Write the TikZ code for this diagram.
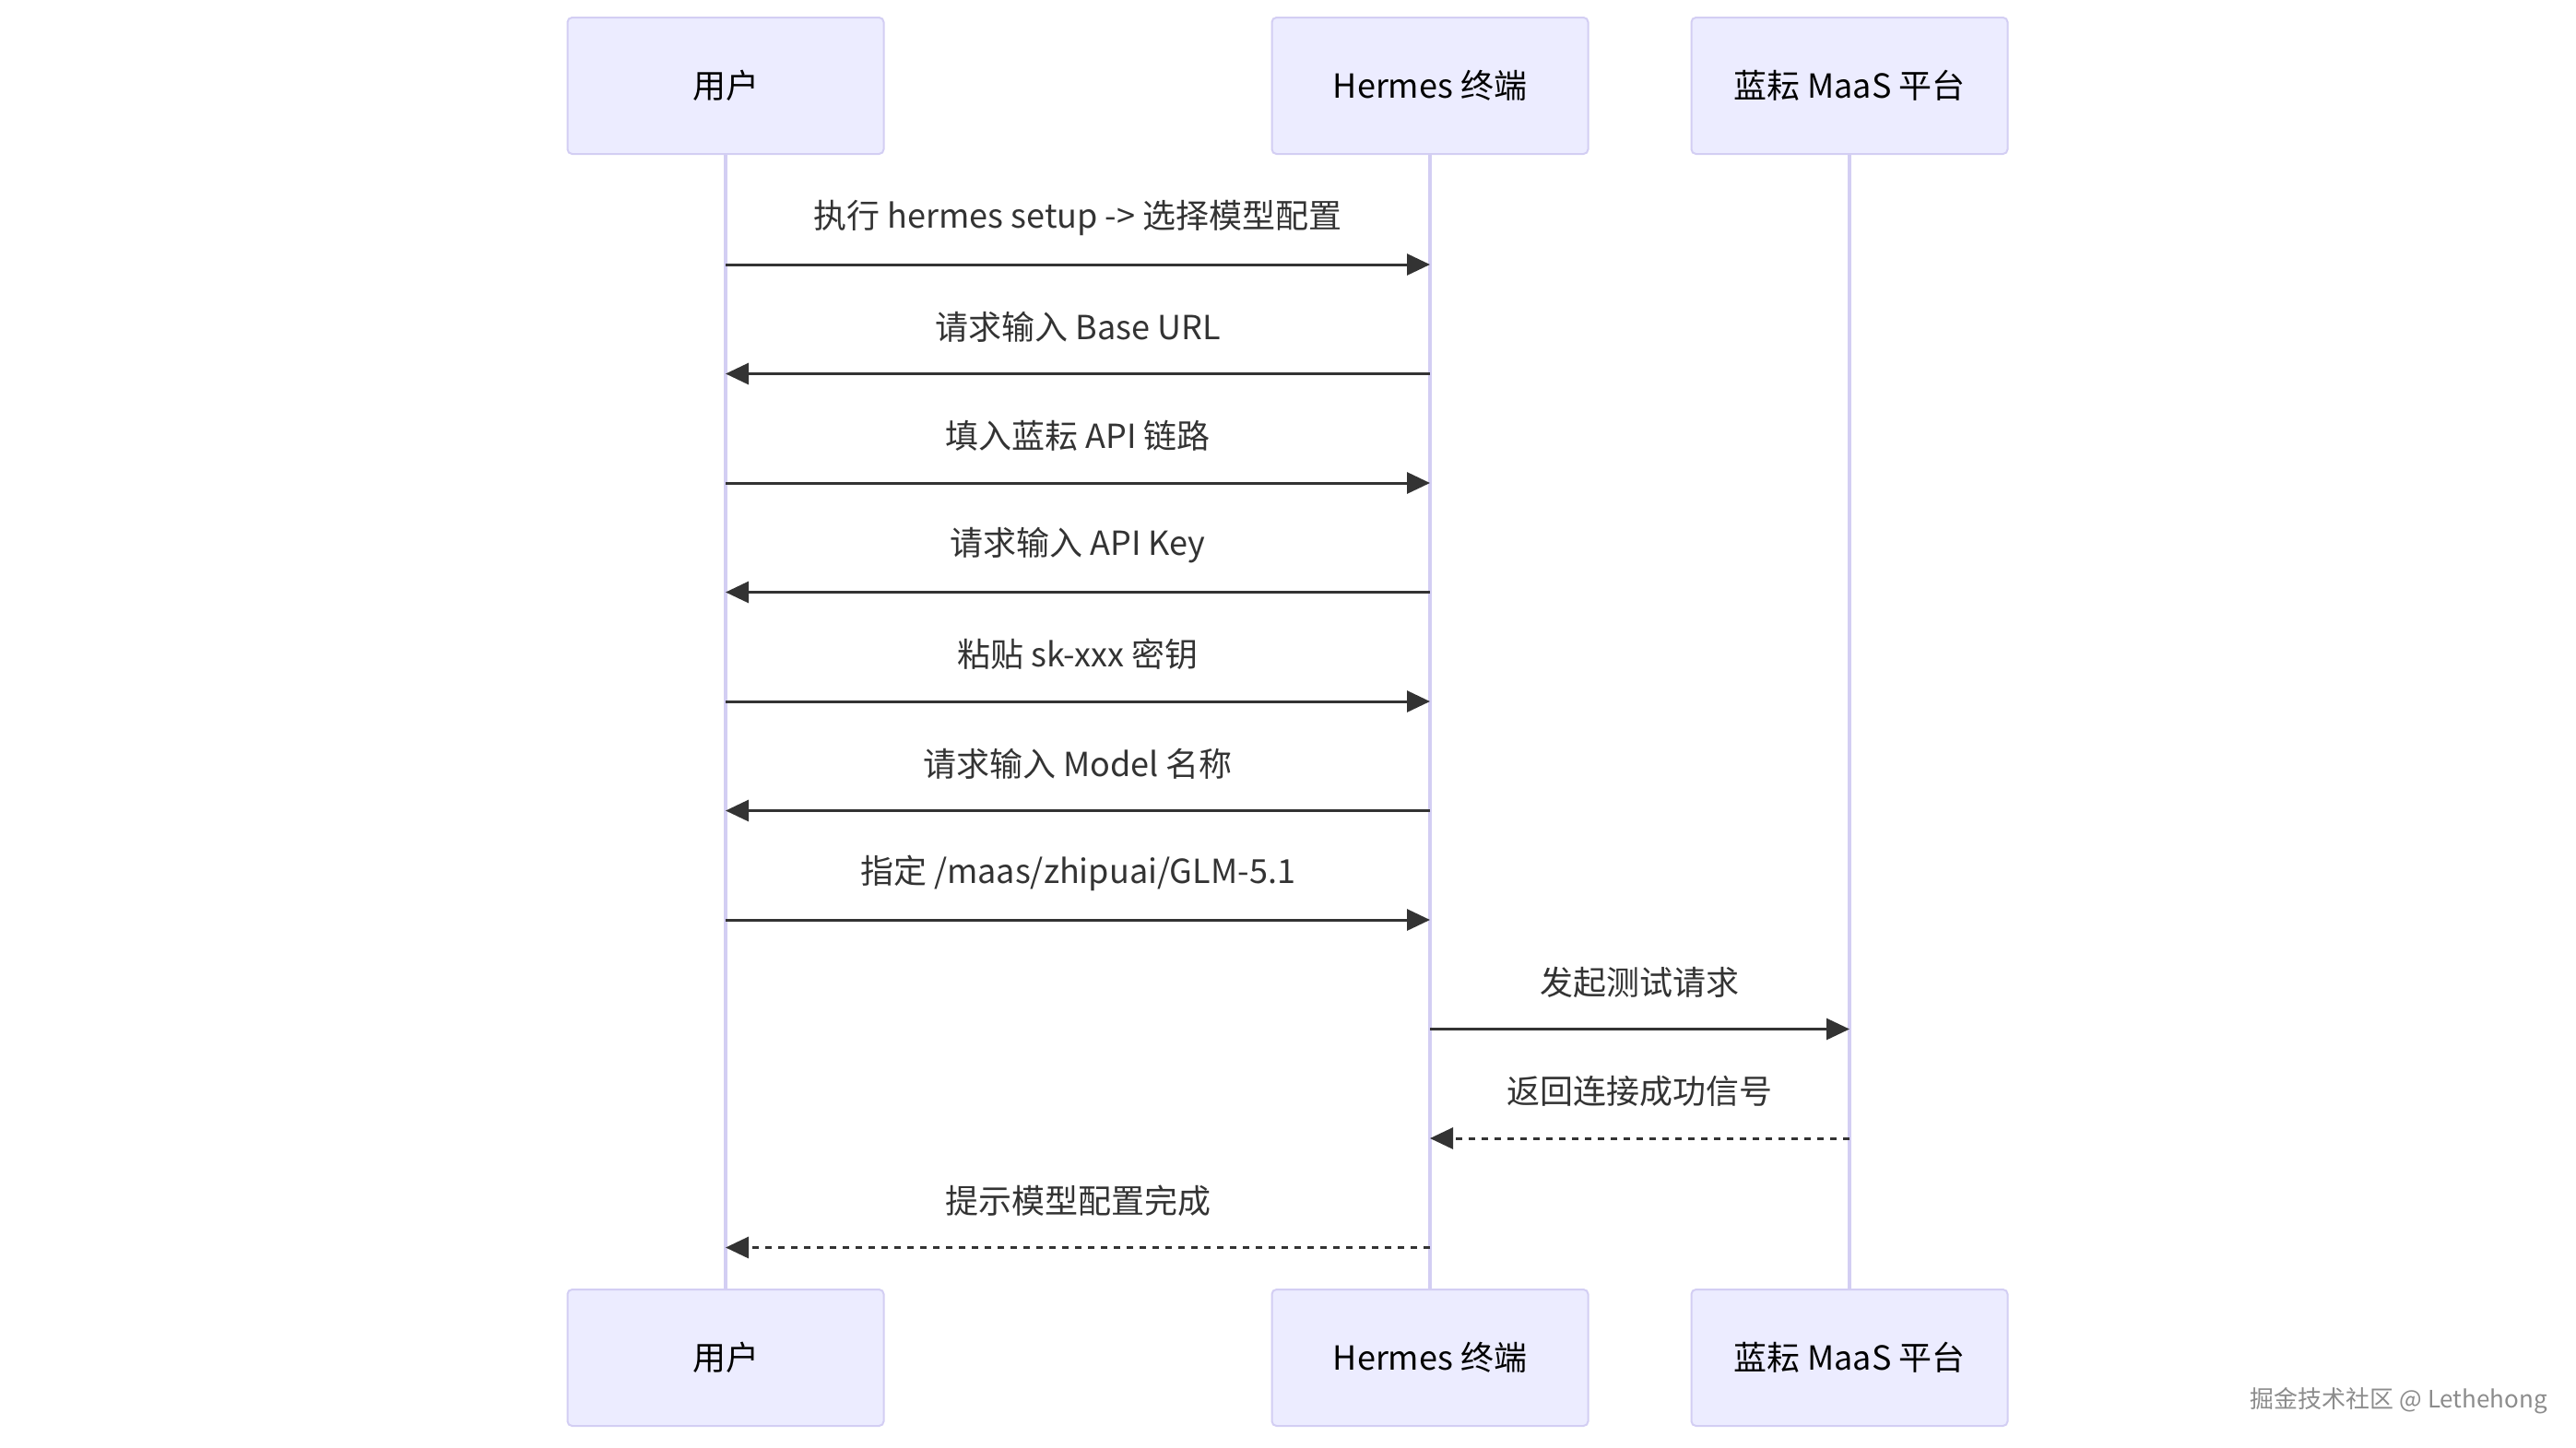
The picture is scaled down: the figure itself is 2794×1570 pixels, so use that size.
\documentclass[tikz,border=0pt]{standalone}
\usepackage{fontspec}
\setmainfont{Noto Sans CJK SC}
\usetikzlibrary{arrows.meta}

\definecolor{actorfill}{HTML}{ECECFF}
\definecolor{actorline}{HTML}{D3CEF3}
\definecolor{msgcol}{HTML}{333333}
\definecolor{markcol}{HTML}{8C8C8C}

\tikzset{
    actor/.style={draw=actorline, line width=1pt, fill=actorfill, rounded corners=2.5pt,
        minimum width=171.5pt, minimum height=74pt, inner sep=0pt,
        font=\fontsize{18}{21}\selectfont},
    lifeline/.style={draw=actorline, line width=2pt},
    msg/.style={draw=msgcol, line width=1.5pt, -{Triangle[length=12.5pt, width=11.5pt]}},
    reply/.style={msg, dash pattern=on 3.5pt off 3.5pt},
    lbl/.style={midway, yshift=25.5pt, text=msgcol, font=\fontsize{18}{21}\selectfont}
}

\begin{document}
\begin{tikzpicture}[x=0.5pt, y=-0.5pt]
    \useasboundingbox (0, 0) rectangle (2794, 1570);
    % actors, top and bottom
    \node[actor] (user) at (787, 93) {用户};
    \node[actor] (hermes) at (1551, 93) {Hermes 终端};
    \node[actor] (maas) at (2006, 93) {蓝耘 MaaS 平台};
    \node[actor] (userB) at (787, 1473) {用户};
    \node[actor] (hermesB) at (1551, 1473) {Hermes 终端};
    \node[actor] (maasB) at (2006, 1473) {蓝耘 MaaS 平台};
    \draw[lifeline] (user.south) -- (userB.north);
    \draw[lifeline] (hermes.south) -- (hermesB.north);
    \draw[lifeline] (maas.south) -- (maasB.north);
    % message rows
    \foreach \i in {1,...,10}
	\coordinate (m\i) at (0, {287 + 118.5*(\i - 1)});
    \draw[msg] (user |- m1) -- (hermes |- m1)
	node [lbl] {执行 hermes setup -> 选择模型配置};
    \draw[msg] (hermes |- m2) -- (user |- m2)
	node [lbl] {请求输入 Base URL};
    \draw[msg] (user |- m3) -- (hermes |- m3)
	node [lbl] {填入蓝耘 API 链路};
    \draw[msg] (hermes |- m4) -- (user |- m4)
	node [lbl] {请求输入 API Key};
    \draw[msg] (user |- m5) -- (hermes |- m5)
	node [lbl] {粘贴 sk-xxx 密钥};
    \draw[msg] (hermes |- m6) -- (user |- m6)
	node [lbl] {请求输入 Model 名称};
    \draw[msg] (user |- m7) -- (hermes |- m7)
	node [lbl] {指定 /maas/zhipuai/GLM-5.1};
    \draw[msg] (hermes |- m8) -- (maas |- m8)
	node [lbl] {发起测试请求};
    \draw[reply] (maas |- m9) -- (hermes |- m9)
	node [lbl] {返回连接成功信号};
    \draw[reply] (hermes |- m10) -- (user |- m10)
	node [lbl] {提示模型配置完成};
    % watermark
    \node[text=markcol, font=\fontsize{13}{15}\selectfont, anchor=east] (mark) at (2770, 1520)
	{掘金技术社区 @ Lethehong};
\end{tikzpicture}
\end{document}
